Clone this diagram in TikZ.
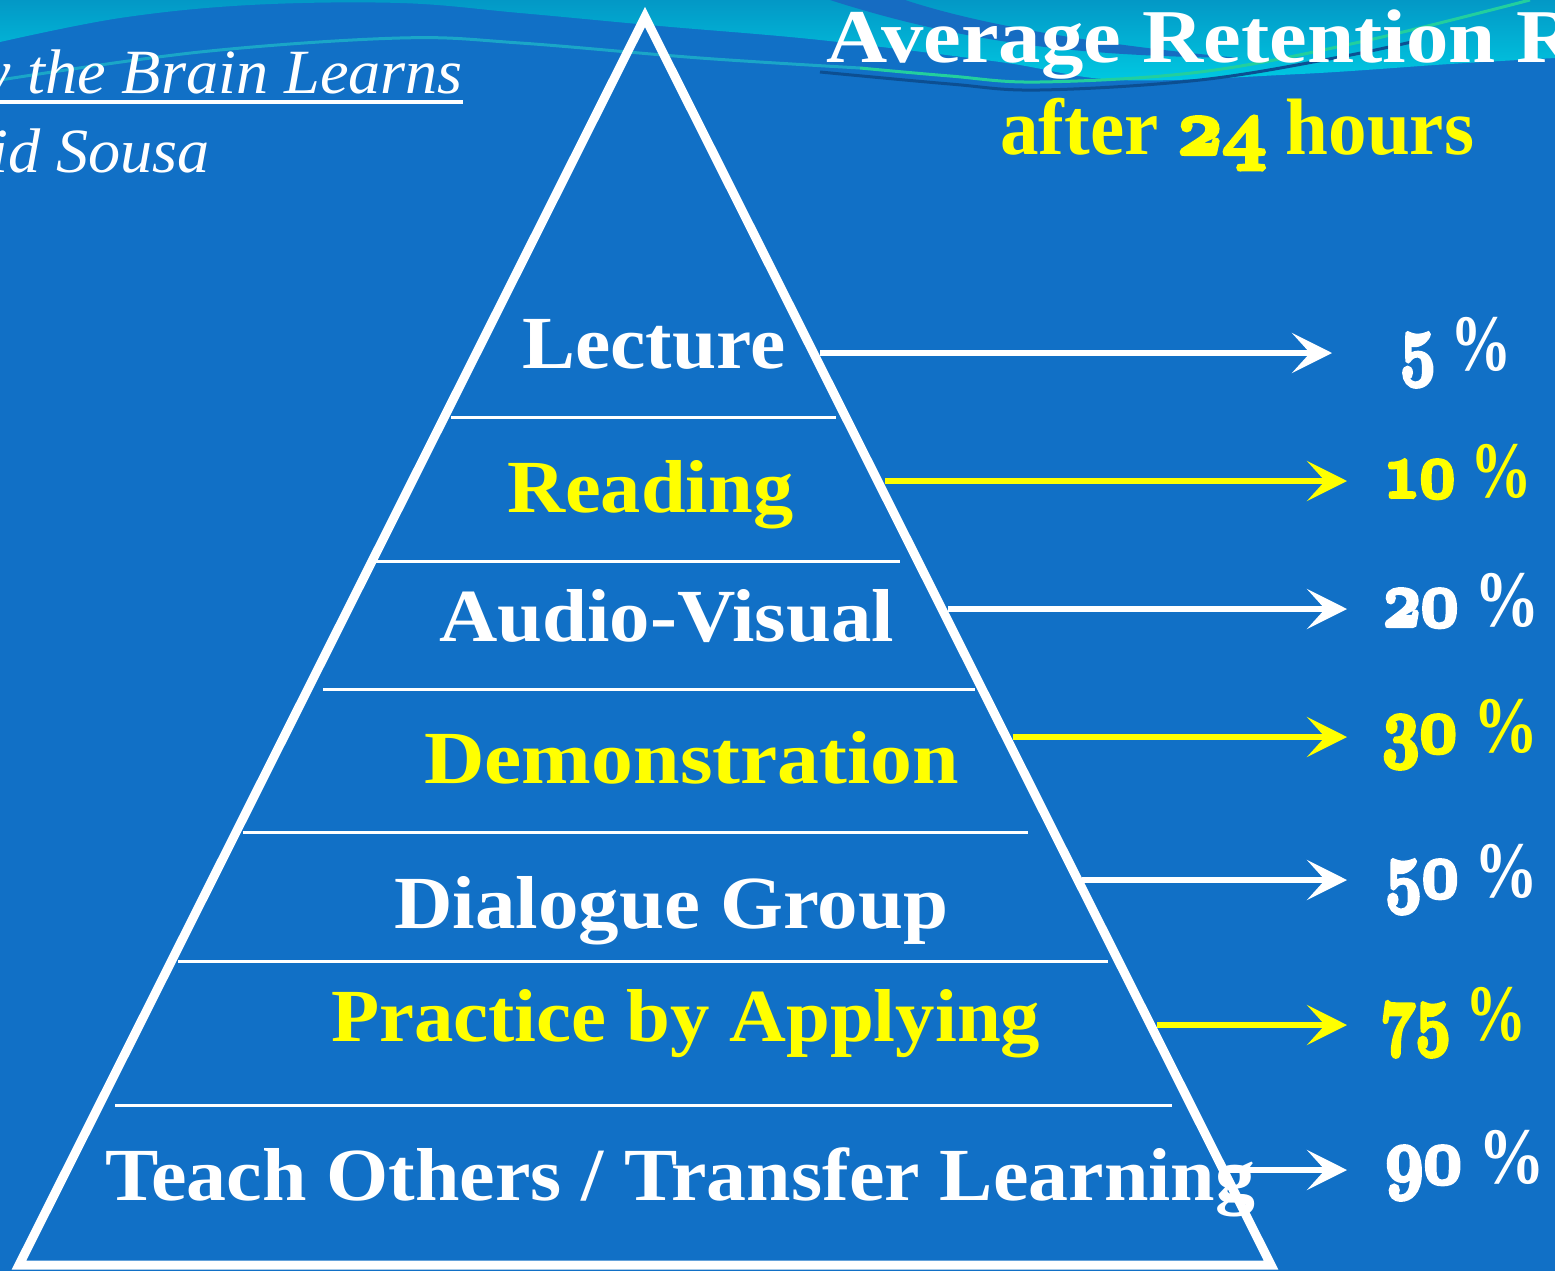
\documentclass[tikz,border=0pt]{standalone}
\usepackage[no-math]{fontspec}
\setmainfont{Liberation Serif}
\usepackage{graphicx}
\usetikzlibrary{arrows.meta}

\definecolor{bgblue}{HTML}{1170C6}
\definecolor{tealtop}{HTML}{0398C6}
\definecolor{tealbot}{HTML}{00C9E2}
\definecolor{streak}{HTML}{166CC2}
\definecolor{waveline}{HTML}{1AA6C8}
\definecolor{wavegreen}{HTML}{22CF9E}
\definecolor{wavedark}{HTML}{0C4F92}
\definecolor{hiyellow}{HTML}{FFFF00}

% old-style figures from the bold math italic font, scalable to any size
\DeclareFontFamily{OML}{osfig}{}
\DeclareFontShape{OML}{osfig}{b}{it}{<-> cmmib10}{}
% fill and stroke the glyph outlines for a heavier figure
\newcommand\heavy[1]{\special{pdf:literal direct 2 Tr 4 w}#1\special{pdf:literal direct 0 Tr}}
\newcommand\osn[1]{{\usefont{OML}{osfig}{b}{it}\heavy{#1}}}
% set a text to a given width, keeping its natural height
\newcommand\fitw[2]{\resizebox{#1}{\height}{#2}}

\tikzset{
  tierlabel/.style={font=\fontsize{75}{75}\selectfont\bfseries, inner sep=0pt, anchor=base west},
  pct/.style={font=\fontsize{80}{80}\selectfont\bfseries, inner sep=0pt, anchor=base west},
  divider/.style={white, line width=3pt},
  retarrow/.style={line width=6pt, -{Stealth[length=40pt,width=40pt,inset=18pt]}},
}

\begin{document}
\begin{tikzpicture}[x=1pt, y=-1pt]
\useasboundingbox (0,0) rectangle (1555,1271);
\clip (0,0) rectangle (1555,1271);

% background
\fill[bgblue] (0,0) rectangle (1555,1271);

% wave band along the top
\shade[top color=tealtop, bottom color=tealbot]
  (0,0) -- plot[smooth, tension=0.6] coordinates
  {(0,42) (120,18) (250,5) (400,3) (520,13) (660,26) (820,40) (1000,62) (1120,80) (1300,74) (1450,64) (1555,58)}
  -- (1555,0) -- cycle;
\fill[streak] (830,0) -- (905,0) .. controls (980,25) and (1100,45) .. (1240,58)
  .. controls (1100,56) and (980,48) .. cycle;
\draw[waveline, line width=3pt] plot[smooth, tension=0.6] coordinates
  {(0,80) (200,52) (400,38) (520,43) (700,58) (860,68)};
\draw[wavegreen, line width=3pt] plot[smooth, tension=0.6] coordinates
  {(860,68) (950,76) (1040,82) (1200,72) (1360,42) (1530,0)};
\draw[wavedark, line width=3pt] plot[smooth, tension=0.6] coordinates
  {(820,72) (950,84) (1040,90) (1200,80) (1340,57) (1420,40)};

% header texts
\node[font=\fontsize{63}{63}\selectfont\itshape, text=white, inner sep=0pt, anchor=base east]
  (book) at (463,94) {\scalebox{1.02}[1]{How the Brain Learns}};
\draw[white, line width=4pt] ([yshift=-8pt]book.base west) -- ([yshift=-8pt]book.base east);
\node[font=\fontsize{63}{63}\selectfont\itshape, text=white, inner sep=0pt, anchor=base east]
  (author) at (210,172) {\scalebox{1.02}[1]{David Sousa}};
\node[font=\fontsize{76}{76}\selectfont\bfseries, text=white, inner sep=0pt, anchor=base west]
  (title) at (826,63) {\fitw{860pt}{Average Retention Rate}};
\node[font=\fontsize{80}{80}\selectfont\bfseries, text=hiyellow, inner sep=0pt, anchor=base west]
  (subtitle) at (1000,154) {\fitw{474pt}{after \osn{24} hours}};

% pyramid outline
\coordinate (apex) at (645,17);
\coordinate (baseL) at (19,1265);
\coordinate (baseR) at (1271,1265);
\draw[white, line width=9pt, miter limit=20] (apex) -- (baseR) -- (baseL) -- cycle;

% tiers
\draw[divider] (451,417) -- (836,417);
\draw[divider] (376,561) -- (900,561);
\draw[divider] (323,689) -- (975,689);
\draw[divider] (243,832) -- (1028,832);
\draw[divider] (178,961) -- (1108,961);
\draw[divider] (115,1105) -- (1172,1105);

\node[tierlabel, text=white]    (lecture)  at (522,368)  {\fitw{263pt}{Lecture}};
\node[tierlabel, text=hiyellow] (reading)  at (507,512)  {\fitw{286pt}{Reading}};
\node[tierlabel, text=white]    (audio)    at (439,641)  {\fitw{455pt}{Audio-Visual}};
\node[tierlabel, text=hiyellow] (demo)     at (424,783)  {\fitw{535pt}{Demonstration}};
\node[tierlabel, text=white]    (dialogue) at (394,928)  {\fitw{554pt}{Dialogue Group}};
\node[tierlabel, text=hiyellow] (practice) at (331,1041) {\fitw{709pt}{Practice by Applying}};
\node[tierlabel, text=white]    (teach)    at (105,1200) {\fitw{1150pt}{Teach Others / Transfer Learning}};

% arrows to the retention rates
\coordinate (s1) at (820,353);  \coordinate (e1) at (1332,353);
\coordinate (s2) at (885,481);  \coordinate (e2) at (1347,481);
\coordinate (s3) at (948,609);  \coordinate (e3) at (1347,609);
\coordinate (s4) at (1013,737); \coordinate (e4) at (1347,737);
\coordinate (s5) at (1082,880); \coordinate (e5) at (1347,880);
\coordinate (s6) at (1157,1025);\coordinate (e6) at (1347,1025);
\coordinate (s7) at (1223,1170);\coordinate (e7) at (1347,1170);
\draw[retarrow, white]    (s1) -- (e1);
\draw[retarrow, hiyellow] (s2) -- (e2);
\draw[retarrow, white]    (s3) -- (e3);
\draw[retarrow, hiyellow] (s4) -- (e4);
\draw[retarrow, white]    (s5) -- (e5);
\draw[retarrow, hiyellow] (s6) -- (e6);
\draw[retarrow, white]    (s7) -- (e7);

% retention rates
\node[pct, text=white]    (p5)  at (1400,370)  {\fitw{112pt}{\osn{5}~\%}};
\node[pct, text=hiyellow] (p10) at (1384,497)  {\fitw{148pt}{\osn{10}~\%}};
\node[pct, text=white]    (p20) at (1383,626)  {\fitw{157pt}{\osn{20}~\%}};
\node[pct, text=hiyellow] (p30) at (1382,752)  {\fitw{156pt}{\osn{30}~\%}};
\node[pct, text=white]    (p50) at (1385,897)  {\fitw{153pt}{\osn{50}~\%}};
\node[pct, text=hiyellow] (p75) at (1380,1040) {\fitw{147pt}{\osn{75}~\%}};
\node[pct, text=white]    (p90) at (1385,1183) {\fitw{160pt}{\osn{90}~\%}};
\end{tikzpicture}
\end{document}
